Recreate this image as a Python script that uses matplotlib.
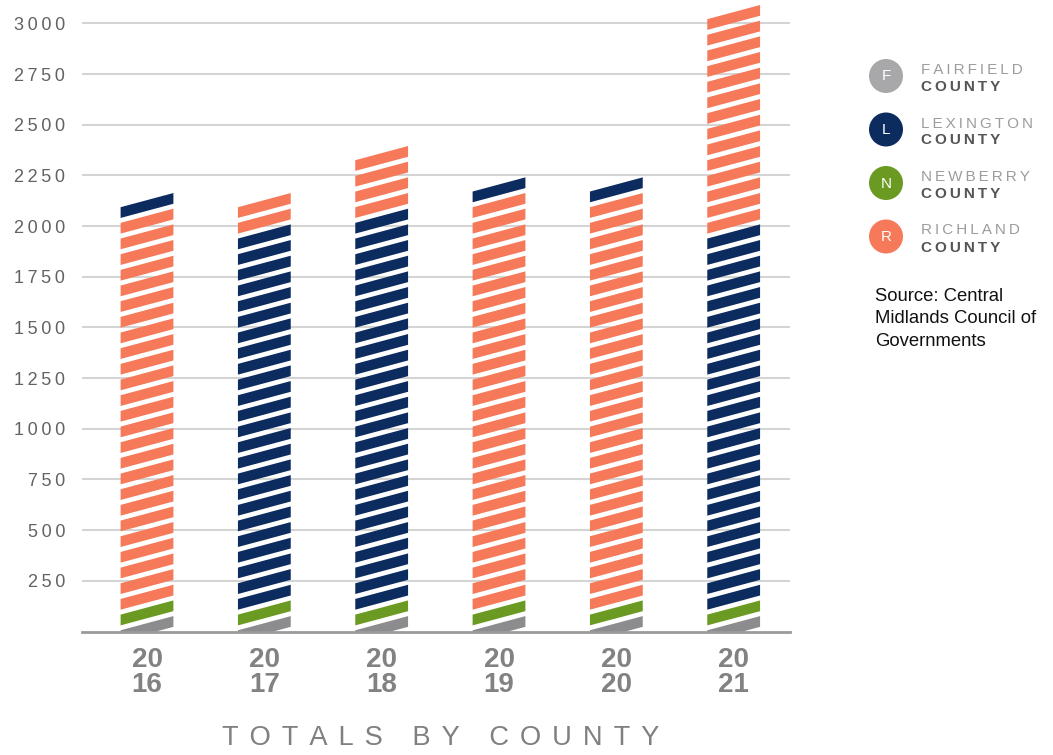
import matplotlib
matplotlib.use("Agg")
from matplotlib import pyplot as plt
from matplotlib.patches import Polygon, Circle

# data
years = ["2016", "2017", "2018", "2019", "2020", "2021"]
counties = ["FAIRFIELD", "LEXINGTON", "NEWBERRY", "RICHLAND"]
fairfield = [50, 50, 50, 50, 50, 50]
newberry = [80, 80, 80, 80, 80, 80]
lexington = [70, 1860, 1940, 70, 70, 1860]
richland = [1930, 140, 320, 2010, 2010, 1060]
# which of the two big counties sits lower in the stack
lower_county = ["RICHLAND", "LEXINGTON", "LEXINGTON", "RICHLAND", "RICHLAND", "LEXINGTON"]
y_ticks = [250, 500, 750, 1000, 1250, 1500, 1750, 2000, 2250, 2500, 2750, 3000]
source = "Source: Central\nMidlands Council of\nGovernments"

colors = {
    "FAIRFIELD": "#8c8c8e",
    "LEXINGTON": "#0c2b5e",
    "NEWBERRY": "#6b9a22",
    "RICHLAND": "#f6795a",
}
legend_colors = {
    "FAIRFIELD": "#a8a8aa",
    "LEXINGTON": "#0c2b5e",
    "NEWBERRY": "#6b9a22",
    "RICHLAND": "#f6795a",
}

# stripe look, in data units
STRIPE_PERIOD = 77.3
STRIPE_THICK = 53.0
STRIPE_SLANT = 70.0
STRIPE_OFFSET = -47.0
BAR_WIDTH = 0.45

FONT = ["Liberation Sans", "DejaVu Sans"]
plt.rcParams["font.family"] = FONT
TS = "\u2009"


def spaced(s: str, gap: str = TS) -> str:
    return gap.join(s)


def bar_segments(i: int) -> list[tuple[str, float]]:
    big = {"LEXINGTON": lexington[i], "RICHLAND": richland[i]}
    low = lower_county[i]
    high = "RICHLAND" if low == "LEXINGTON" else "LEXINGTON"
    return [
        ("FAIRFIELD", fairfield[i]),
        ("NEWBERRY", newberry[i]),
        (low, big[low]),
        (high, big[high]),
    ]


def draw_bar(ax, x: float, segments: list[tuple[str, float]]) -> None:
    bounds = []
    top = 0.0
    for name, v in segments:
        bounds.append((name, top, top + v))
        top += v
    xl = x - BAR_WIDTH / 2
    xr = x + BAR_WIDTH / 2
    k = 0
    while True:
        y_lo = STRIPE_OFFSET + k * STRIPE_PERIOD
        mid = y_lo + STRIPE_THICK / 2 + STRIPE_SLANT / 2
        if mid > top:
            break
        name = next(n for n, a, b in bounds if a <= mid < b)
        poly = Polygon(
            [
                (xl, y_lo),
                (xr, y_lo + STRIPE_SLANT),
                (xr, y_lo + STRIPE_SLANT + STRIPE_THICK),
                (xl, y_lo + STRIPE_THICK),
            ],
            closed=True,
            facecolor=colors[name],
            edgecolor="none",
            zorder=3,
        )
        ax.add_patch(poly)
        k += 1


fig = plt.figure(figsize=(10.53, 7.55), dpi=100)
W, H = 1053, 755
ax = fig.add_axes([82 / W, (H - 631.5) / H, (790 - 82) / W, 628.4 / H])
ax.set_xlim(-0.554, 5.48)
ax.set_ylim(0, 3100)

for i in range(len(years)):
    draw_bar(ax, i, bar_segments(i))

ax.set_yticks(y_ticks, labels=[spaced(str(t)) for t in y_ticks])
ax.set_xticks(range(len(years)), labels=[y[:2] + "\n" + y[2:] for y in years])
ax.yaxis.grid(True, color="#d4d4d4", linewidth=1.5)
ax.set_axisbelow(True)
for s in ["top", "right", "left"]:
    ax.spines[s].set_visible(False)
ax.spines["bottom"].set_color("#9a9a9a")
ax.spines["bottom"].set_linewidth(2)
ax.spines["bottom"].set_zorder(4)
ax.tick_params(axis="y", length=0, pad=12, labelsize=13, labelcolor="#626262")
ax.tick_params(axis="x", length=0, pad=11, labelsize=20, labelcolor="#828282")
for lbl in ax.get_xticklabels():
    lbl.set_fontweight("bold")
    lbl.set_linespacing(0.95)

fig.text(441 / W, 1 - 738 / H, spaced("TOTALS BY COUNTY", TS + TS),
         ha="center", va="center", fontsize=19.6, color="#808080")

# legend, drawn in pixel coordinates
lg = fig.add_axes([0, 0, 1, 1])
lg.set_xlim(0, W)
lg.set_ylim(H, 0)
lg.axis("off")
for j, name in enumerate(counties):
    cy = 76 + j * 53.5
    lg.add_patch(Circle((886, cy), 17, facecolor=legend_colors[name],
                        edgecolor="none"))
    lg.text(886, cy + 0.5, name[0], ha="center", va="center", fontsize=11,
            color="white")
    lg.text(921, cy - 6, spaced(name), ha="left", va="center", fontsize=11,
            color="#9c9c9c")
    lg.text(921, cy + 11, spaced("COUNTY"), ha="left", va="center",
            fontsize=11, color="#555555", fontweight="bold")
lg.text(875, 288, source, ha="left", va="top", fontsize=13.3, color="#111111",
        linespacing=1.42)

fig.savefig("out.png", dpi=100)
